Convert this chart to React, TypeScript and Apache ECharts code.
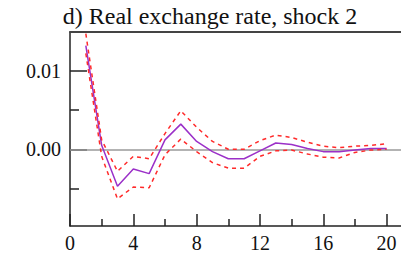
import React, { useEffect, useRef } from "react";
import * as echarts from "echarts";

const periods = [1, 2, 3, 4, 5, 6, 7, 8, 9, 10, 11, 12, 13, 14, 15, 16, 17, 18, 19, 20];
const response = [0.0132, 0.0005, -0.0047, -0.0025, -0.0031, 0.0012, 0.0032, 0.001, -0.0003, -0.0012, -0.0012, -0.0002, 0.0008, 0.0006, 0.0001, -0.0003, -0.0003, -0.0001, 0.0001, 0.0001];
const upperBand = [0.0147, 0.0012, -0.0028, -0.0009, -0.0012, 0.002, 0.0049, 0.0028, 0.001, 0.0, 0.0, 0.0011, 0.0018, 0.0015, 0.0009, 0.0004, 0.0002, 0.0004, 0.0005, 0.0007];
const lowerBand = [0.0122, -0.0009, -0.0063, -0.0048, -0.0049, -0.0007, 0.0013, -0.0003, -0.0017, -0.0024, -0.0024, -0.0009, -0.0002, -0.0001, -0.0006, -0.001, -0.0011, -0.0004, -0.0001, 0.0];
const xMajorTicks = [0, 4, 8, 12, 16, 20];
const xMinorTicks = [2, 6, 10, 14, 18];
const yMajorTicks = [0, 0.01];
const yMinorTicks = [-0.005, 0.005];
const titleText = "d) Real exchange rate, shock 2";

const FONT = "Liberation Serif";

export default function App() {
  const ref = useRef<HTMLDivElement>(null);
  useEffect(() => {
    if (!ref.current) return;
    const chart = echarts.init(ref.current, null, { renderer: "svg" });
    const pair = (arr: number[]) => periods.map((t, i) => [t, arr[i]]);
    const xMin = 0;
    const xMax = 20.91;
    const yMin = -0.00976;
    const yMax = 0.01492;
    chart.setOption({
      animation: false,
      graphic: [
        {
          type: "text",
          x: 210,
          y: 4,
          style: {
            text: titleText,
            fontFamily: FONT,
            fontSize: 24,
            fill: "#111",
            textAlign: "center",
            textVerticalAlign: "top",
          },
        },
      ],
      grid: { left: 70, right: 0, top: 32, bottom: 30, containLabel: false },
      xAxis: [
        {
          type: "value",
          position: "bottom",
          min: xMin,
          max: xMax,
          splitLine: { show: false },
          axisLine: { show: true, onZero: false, lineStyle: { color: "#222", width: 1.5 } },
          axisTick: { show: true, inside: true, length: 12, customValues: xMajorTicks, lineStyle: { color: "#222", width: 1.5 } },
          axisLabel: {
            show: true,
            margin: 7,
            customValues: xMajorTicks,
            fontFamily: FONT,
            fontSize: 20,
            color: "#111",
            formatter: (v: number) => String(Math.round(v)),
          },
        },
        {
          type: "value",
          position: "bottom",
          min: xMin,
          max: xMax,
          splitLine: { show: false },
          axisLine: { show: false, onZero: false },
          axisTick: { show: true, inside: true, length: 7, customValues: xMinorTicks, lineStyle: { color: "#222", width: 1.5 } },
          axisLabel: { show: false },
        },
        {
          type: "value",
          position: "top",
          min: xMin,
          max: xMax,
          splitLine: { show: false },
          axisLine: { show: true, onZero: false, lineStyle: { color: "#444", width: 2 } },
          axisTick: { show: false },
          axisLabel: { show: false },
        },
      ],
      yAxis: [
        {
          type: "value",
          position: "left",
          min: yMin,
          max: yMax,
          splitLine: { show: false },
          axisLine: { show: true, onZero: false, lineStyle: { color: "#222", width: 1.5 } },
          axisTick: { show: true, inside: true, length: 17, customValues: yMajorTicks, lineStyle: { color: "#222", width: 1.5 } },
          axisLabel: {
            show: true,
            margin: 9,
            customValues: yMajorTicks,
            fontFamily: FONT,
            fontSize: 20,
            color: "#111",
            formatter: (v: number) => v.toFixed(2),
          },
        },
        {
          type: "value",
          position: "left",
          min: yMin,
          max: yMax,
          splitLine: { show: false },
          axisLine: { show: false, onZero: false },
          axisTick: { show: true, inside: true, length: 9, customValues: yMinorTicks, lineStyle: { color: "#222", width: 1.5 } },
          axisLabel: { show: false },
        },
      ],
      series: [
        {
          type: "line",
          xAxisIndex: 0,
          yAxisIndex: 0,
          data: pair(response),
          showSymbol: false,
          lineStyle: { color: "#9b30c8", width: 1.5 },
          z: 3,
          markLine: {
            silent: true,
            symbol: "none",
            label: { show: false },
            lineStyle: { color: "#9a9a9a", width: 1.5, type: "solid" },
            data: [{ yAxis: 0 }],
            z: 1,
          },
        },
        {
          type: "line",
          xAxisIndex: 0,
          yAxisIndex: 0,
          data: pair(upperBand),
          showSymbol: false,
          lineStyle: { color: "#ff2a2a", width: 1.5, type: [4, 4] },
          z: 4,
        },
        {
          type: "line",
          xAxisIndex: 0,
          yAxisIndex: 0,
          data: pair(lowerBand),
          showSymbol: false,
          lineStyle: { color: "#ff2a2a", width: 1.5, type: [4, 4] },
          z: 4,
        },
      ],
    });
    return () => chart.dispose();
  }, []);
  return <div ref={ref} style={{ width: 401, height: 256, position: "absolute", left: 0, top: 0 }} />;
}
